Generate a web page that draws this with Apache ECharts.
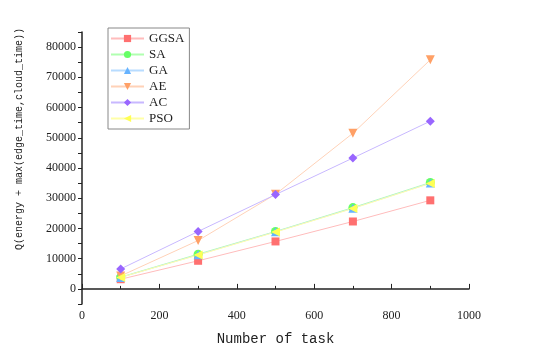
<!DOCTYPE html>
<html>
<head>
<meta charset="utf-8">
<script src="https://cdn.jsdelivr.net/npm/echarts@6/dist/echarts.min.js"></script>
<style>
  html, body { margin: 0; padding: 0; background: #fff; }
  #chart { width: 538px; height: 356px; }
</style>
</head>
<body>
<div id="chart"></div>
<script>
// task counts (x)
const tasks = [100, 300, 500, 700, 900];

// values
const ggsa = [3200, 9300, 15700, 22300, 29300];
const sa   = [3900, 11500, 19000, 26900, 35200];
const ga   = [3800, 11300, 18900, 26700, 35000];
const ae   = [4300, 16000, 31300, 51500, 75800];
const ac   = [6600, 19000, 31200, 43300, 55500];
const pso  = [3800, 11200, 18800, 26600, 34900];

const names   = ['GGSA', 'SA', 'GA', 'AE', 'AC', 'PSO'];
const values  = [ggsa, sa, ga, ae, ac, pso];
const symbols = ['rect', 'circle', 'triangle', 'path://M0,0 L10,0 L5,9 Z', 'diamond', 'path://M0,5 L9,0 L9,10 Z'];
const markColors = ['#ff7070', '#66ff66', '#66b3ff', '#ffa066', '#9966ff', '#ffff55'];
const lineColors = ['#ffbcbc', '#b0ffb0', '#b8dcff', '#ffd2b8', '#c8b8ff', '#ffffa8'];

const serif = "'Liberation Serif', 'DejaVu Serif', serif";
const mono = "'Liberation Mono', 'DejaVu Sans Mono', monospace";

let series = names.map((n, i) => ({
  name: n,
  type: 'line',
  data: tasks.map((t, j) => [t, values[i][j]]),
  symbol: symbols[i],
  symbolSize: i === 0 ? 8 : 9,
  lineStyle: { color: lineColors[i], width: 1 },
  itemStyle: { color: markColors[i] },
  emphasis: { disabled: true }
}));

let option = {
  animation: false,
  grid: { left: 82, right: 69, top: 32, bottom: 52 },
  legend: {
    orient: 'vertical',
    left: 108,
    top: 28,
    itemWidth: 33,
    itemHeight: 9,
    itemGap: 3,
    padding: [4, 5, 4, 2],
    borderColor: '#888',
    borderWidth: 1,
    textStyle: { fontFamily: serif, fontSize: 13, lineHeight: 13, color: '#222' },
    data: names
  },
  xAxis: {
    type: 'value',
    min: 0,
    max: 1000,
    interval: 200,
    name: 'Number of task',
    nameLocation: 'middle',
    nameGap: 28,
    nameTextStyle: { fontFamily: mono, fontSize: 14, color: '#222' },
    axisLine: { lineStyle: { color: '#222', width: 1.5 } },
    axisTick: { inside: true, length: 5, lineStyle: { color: '#222' } },
    minorTick: { show: true, splitNumber: 2, length: 3, lineStyle: { color: '#222' } },
    splitLine: { show: false },
    axisLabel: { fontFamily: serif, fontSize: 12, color: '#222', margin: 6, formatter: v => String(v) }
  },
  yAxis: {
    type: 'value',
    min: -5000,
    max: 85000,
    interval: 5000,
    name: 'Q(energy + max(edge_time,cloud_time))',
    nameLocation: 'middle',
    nameGap: 58,
    nameTextStyle: { fontFamily: mono, fontSize: 10, color: '#222', padding: [0, 0, 0, 58] },
    axisLine: { show: true, lineStyle: { color: '#222', width: 1.5 } },
    axisTick: { length: 4, lineStyle: { color: '#222' } },
    splitLine: { show: false },
    axisLabel: {
      fontFamily: serif, fontSize: 12, color: '#222', margin: 6,
      formatter: v => (v >= 0 && v % 10000 === 0 && v <= 80000) ? String(v) : ''
    }
  },
  series: series
};

let myChart = echarts.init(document.getElementById('chart'));
myChart.setOption(option);
</script>
</body>
</html>
